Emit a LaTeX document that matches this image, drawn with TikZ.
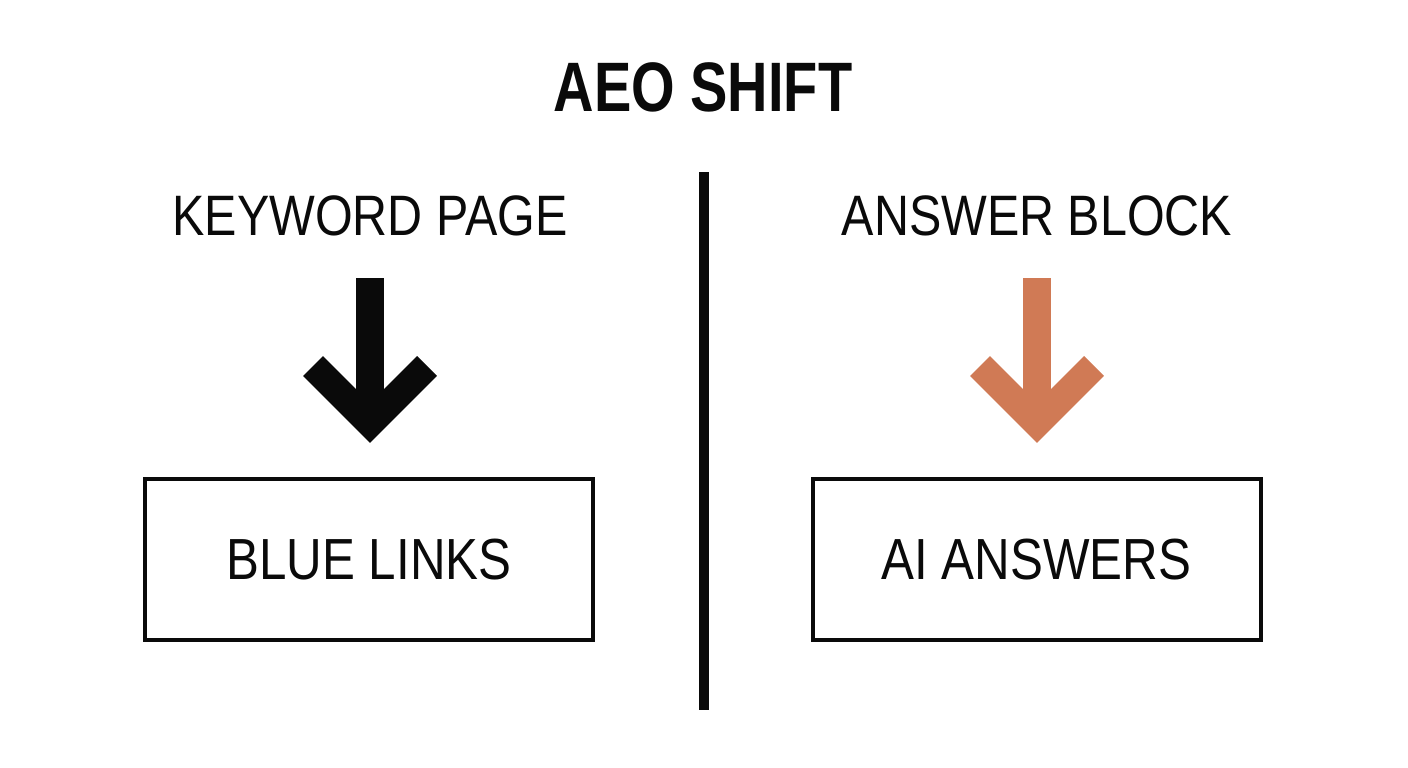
\documentclass[tikz,border=0pt]{standalone}
\usepackage{fontspec}
\usepackage{tikz}
\usetikzlibrary{positioning}
\newfontfamily\titlefont[FakeStretch=0.80]{Liberation Sans Bold}
\newfontfamily\labelfont[FakeStretch=0.85]{Liberation Sans}
\definecolor{ink}{RGB}{10, 10, 10}
\definecolor{rust}{RGB}{208, 122, 85}

\begin{document}
\begin{tikzpicture}[x=1pt, y=-1pt, thick,
  heading/.style={inner sep=0pt, font=\labelfont\fontsize{57}{60}\selectfont, text=ink},
  result/.style={draw=ink, line width=4pt, inner sep=0pt, minimum width=448pt,
    minimum height=161pt, font=\labelfont\fontsize{58}{60}\selectfont, text=ink}]

  \useasboundingbox[fill=white] (0, 0) rectangle (1408, 768);

  \node[inner sep=0pt, font=\titlefont\fontsize{70}{72}\selectfont, text=ink]
    (title) at (703, 87) {AEO SHIFT};

  % divider
  \coordinate (divtop) at (704, 172);
  \coordinate (divbot) at (704, 710);
  \draw[line width=10pt, ink] (divtop) -- (divbot);

  \node[heading] (keyword) at (370, 216) {KEYWORD PAGE};
  \node[heading] (answer) at (1037, 216) {ANSWER BLOCK};

  \node[result] (links) at (369, 559.5) {BLUE LINKS};
  \node[result] (aians) at (1036.5, 559.5) {AI ANSWERS};

  % arrows
  \foreach \x/\c in {370/ink, 1037/rust} {
    \draw[line width=28pt, \c] (\x, 278) -- (\x, 420);
    \draw[line width=28pt, \c, miter limit=4]
      (\x - 57, 366) -- (\x, 423) -- (\x + 57, 366);
  }

\end{tikzpicture}
\end{document}
